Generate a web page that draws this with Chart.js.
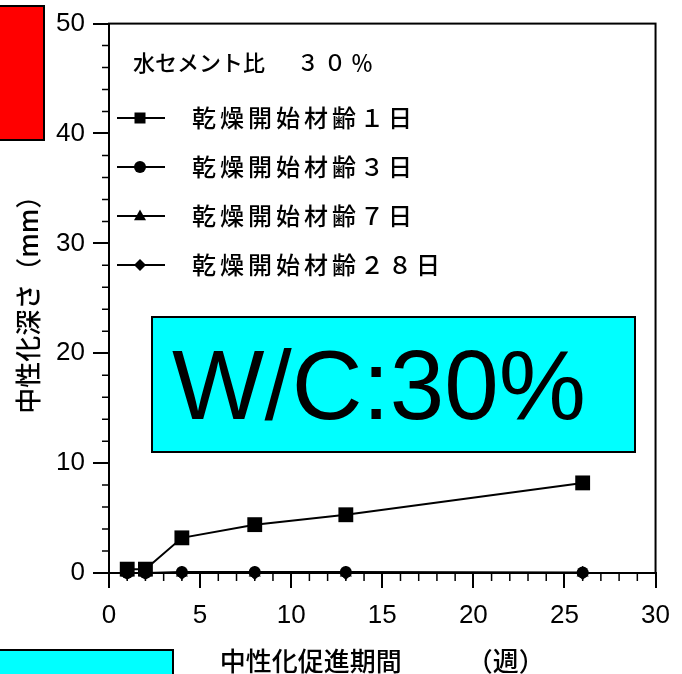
<!DOCTYPE html>
<html>
<head>
<meta charset="utf-8">
<script src="https://cdn.jsdelivr.net/npm/chart.js@4"></script>
<style>
  body { margin: 0; background: #fff; }
  #wrap { position: relative; width: 682px; height: 674px; overflow: hidden; }
  #chart { position: absolute; left: 0; top: 0; }
  .box { position: absolute; box-sizing: border-box; border: 2px solid #000; }
  #redBox { left: -3px; top: 5px; width: 48px; height: 136px; background: #ff0000; }
  #wcBox { left: 151px; top: 316px; width: 485px; height: 137px; background: #00ffff;
           display: flex; align-items: center; padding-left: 19px;
           font: 98px "Liberation Sans", Arial, sans-serif; line-height: 1; color: #000; }
  #bottomBox { left: -3px; top: 649px; width: 177px; height: 30px; background: #00ffff; }
</style>
</head>
<body>
<div id="wrap">
  <canvas id="chart" width="682" height="674"></canvas>
  <div class="box" id="redBox"></div>
  <div class="box" id="wcBox">W/C:30%</div>
  <div class="box" id="bottomBox"></div>
</div>
<script>
// 促進期間（週）
const weeks = [1, 2, 4, 8, 13, 26];
// 中性化深さ (mm)
const depth1d = [0.35, 0.35, 3.2, 4.4, 5.3, 8.2];
const depth3d = [0, 0, 0.1, 0.1, 0.1, 0.05];
const depth7d = [0, 0, 0, 0, 0, 0];
const depth28d = [0, 0, 0, 0, 0, 0];

const seriesLabels = ['乾燥開始材齢１日', '乾燥開始材齢３日', '乾燥開始材齢７日', '乾燥開始材齢２８日'];
const legendTitle = ['水セメント比', '３０％'];

const xTicks = { min: 0, max: 30, major: 5, minor: 1 };
const yTicks = { min: 0, max: 50, major: 10, minor: 2 };

const toPoints = vals => weeks.map((w, i) => ({ x: w, y: vals[i] }));

function drawMarker(ctx, style, x, y, r) {
  ctx.beginPath();
  if (style === 'rect') {
    ctx.rect(x - r, y - r, 2 * r, 2 * r);
  } else if (style === 'circle') {
    ctx.arc(x, y, r, 0, Math.PI * 2);
  } else if (style === 'triangle') {
    ctx.moveTo(x, y - r * 1.1);
    ctx.lineTo(x + r, y + r * 0.7);
    ctx.lineTo(x - r, y + r * 0.7);
    ctx.closePath();
  } else {
    ctx.moveTo(x, y - r);
    ctx.lineTo(x + r, y);
    ctx.lineTo(x, y + r);
    ctx.lineTo(x - r, y);
    ctx.closePath();
  }
  ctx.fill();
}

// 枠・副目盛り・凡例
const framePlugin = {
  id: 'frame',
  afterDraw(chart) {
    const ctx = chart.ctx;
    const a = chart.chartArea;
    const sx = chart.scales.x, sy = chart.scales.y;
    ctx.save();
    ctx.strokeStyle = '#000';
    ctx.lineWidth = 2;
    ctx.strokeRect(a.left, a.top, a.right - a.left, a.bottom - a.top);

    ctx.lineWidth = 1.5;
    ctx.beginPath();
    for (let v = xTicks.min; v <= xTicks.max; v += xTicks.minor) {
      if (v % xTicks.major === 0) continue;
      const px = sx.getPixelForValue(v);
      ctx.moveTo(px, a.bottom);
      ctx.lineTo(px, a.bottom + 8);
    }
    for (let v = yTicks.min; v <= yTicks.max; v += yTicks.minor) {
      if (v % yTicks.major === 0) continue;
      const py = sy.getPixelForValue(v);
      ctx.moveTo(a.left - 7, py);
      ctx.lineTo(a.left, py);
    }
    ctx.stroke();

    // 凡例
    ctx.fillStyle = '#000';
    ctx.textBaseline = 'middle';
    ctx.font = '500 22px "Noto Sans CJK JP"';
    ctx.fillText(legendTitle[0], 133, 63);
    ctx.letterSpacing = '5px';
    ctx.fillText(legendTitle[1], 297, 63);
    ctx.font = '500 24px "Noto Sans CJK JP"';
    ctx.letterSpacing = '4px';
    chart.data.datasets.forEach((ds, i) => {
      const y = 118 + i * 49;
      ctx.lineWidth = 2;
      ctx.beginPath();
      ctx.moveTo(117, y);
      ctx.lineTo(165, y);
      ctx.stroke();
      drawMarker(ctx, ds.pointStyle, 140, y, ds.pointStyle === 'rect' ? 5.5 : 6);
      ctx.fillText(ds.label, 192, y);
    });
    ctx.restore();
  }
};

const styles = ['rect', 'circle', 'triangle', 'rectRot'];
const radii = [10.5, 6, 7, 7];
const allData = [depth1d, depth3d, depth7d, depth28d];

new Chart(document.getElementById('chart'), {
  type: 'scatter',
  data: {
    datasets: allData.map((vals, i) => ({
      label: seriesLabels[i],
      data: toPoints(vals),
      showLine: true,
      borderColor: '#000',
      borderWidth: 2,
      backgroundColor: '#000',
      pointBackgroundColor: '#000',
      pointBorderWidth: 0,
      pointStyle: styles[i],
      pointRadius: radii[i],
      clip: false
    }))
  },
  options: {
    responsive: false,
    animation: false,
    layout: { padding: { top: 23, right: 23, left: 0, bottom: 0 } },
    plugins: { legend: { display: false }, tooltip: { enabled: false } },
    scales: {
      x: {
        type: 'linear',
        min: xTicks.min, max: xTicks.max,
        afterFit: s => { s.height = 101; },
        border: { color: '#000', width: 2 },
        grid: { drawOnChartArea: false, color: '#000', lineWidth: 2, tickLength: 15 },
        ticks: { stepSize: xTicks.major, color: '#000', padding: 12,
                 font: { family: '"Liberation Sans", Arial', size: 26 } },
        title: { display: true, text: '中性化促進期間　　　（週）', color: '#000',
                 padding: { top: 0, bottom: 0 },
                 font: { family: '"Noto Sans CJK JP"', size: 26, weight: '500', lineHeight: 1 } }
      },
      y: {
        min: yTicks.min, max: yTicks.max,
        afterFit: s => { s.width = 109; },
        border: { color: '#000', width: 2 },
        grid: { drawOnChartArea: false, color: '#000', lineWidth: 2, tickLength: 16 },
        ticks: { stepSize: yTicks.major, color: '#000', padding: 8,
                 font: { family: '"Liberation Sans", Arial', size: 26 } },
        title: { display: true, text: '中性化深さ（mm）', color: '#000',
                 padding: { top: 15, bottom: 0 },
                 font: { family: '"Noto Sans CJK JP"', size: 26, weight: '500', lineHeight: 1 } }
      }
    }
  },
  plugins: [framePlugin]
});
</script>
</body>
</html>
